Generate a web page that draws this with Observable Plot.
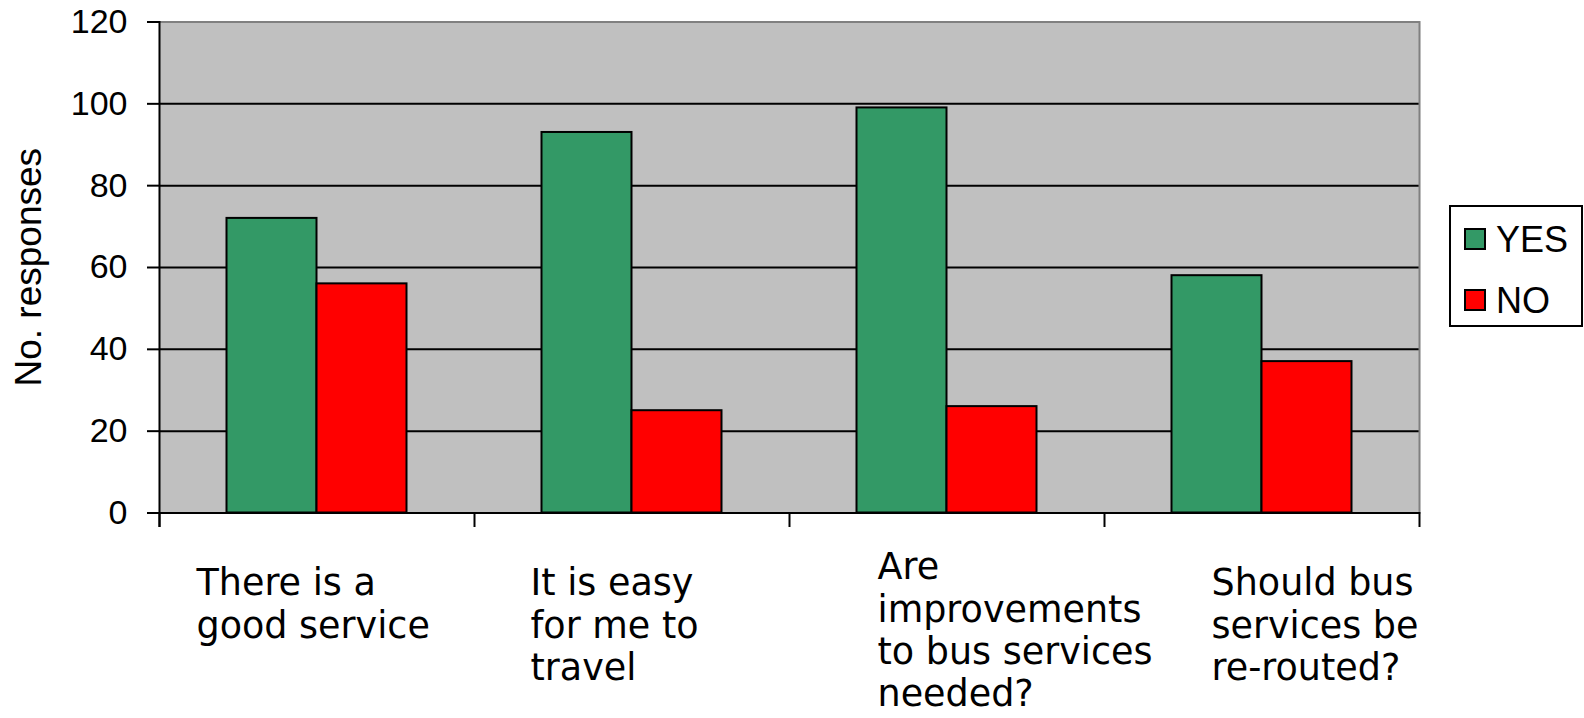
<!DOCTYPE html>
<html>
<head>
<meta charset="utf-8">
<script src="https://cdn.jsdelivr.net/npm/d3@7"></script>
<script src="https://cdn.jsdelivr.net/npm/@observablehq/plot@0.6"></script>
<style>
  html, body { margin: 0; padding: 0; background: white; }
  #wrap { position: relative; width: 1584px; height: 718px; }
  #legend { position: absolute; left: 1449px; top: 205px; width: 134px; height: 122px;
    box-sizing: border-box; border: 2px solid black; background: white;
    font-family: "Liberation Sans", Arial, sans-serif; font-size: 36px; line-height: 36px; color: black; }
  #legend .sw { position: absolute; width: 22px; height: 22px; box-sizing: border-box; border: 2px solid black; }
  #legend .lb { position: absolute; white-space: nowrap; }
</style>
</head>
<body>
<div id="wrap"></div>
<script>
// ---- data ----
const categories = [
  "There is a good service",
  "It is easy for me to travel",
  "Are improvements to bus services needed?",
  "Should bus services be re-routed?"
];
const tickLabels = [
  "There is a\ngood service",
  "It is easy\nfor me to\ntravel",
  "Are\nimprovements\nto bus services\nneeded?",
  "Should bus\nservices be\nre-routed?"
];
const series = ["YES", "NO"];
const seriesColors = ["#339966", "#ff0000"];
const yesValues = [72, 93, 99, 58];
const noValues = [56, 25, 26, 37];
const yTicks = [0, 20, 40, 60, 80, 100, 120];
const yLabel = "No. responses";

// ---- build table ----
const rows = [];
categories.forEach((c, i) => {
  rows.push({cat: c, series: "YES", value: yesValues[i]});
  rows.push({cat: c, series: "NO", value: noValues[i]});
});

// label layout offsets (styling)
const labelDx = [37, 56, 88, 107];
const labelDy = [52, 52, 36, 52];

const W = 1584, H = 718, mT = 21.5, mB = 205.5, mL = 159, mR = 165;
const innerH = H - mT - mB;

const labelMarks = categories.map((c, i) =>
  Plot.text([{cat: c, label: tickLabels[i]}], {
    fx: "cat", text: "label", frameAnchor: "bottom-left",
    textAnchor: "start", lineAnchor: "top", dx: labelDx[i], dy: labelDy[i],
    fontSize: 36.5, fontFamily: "DejaVu Sans", lineHeight: 1.162, fill: "black"
  })
);

const chart = Plot.plot({
  width: W, height: H,
  marginTop: mT, marginBottom: mB, marginLeft: mL, marginRight: mR,
  style: {background: "white", color: "black", overflow: "visible"},
  fx: {domain: categories, paddingInner: 0, paddingOuter: 0, round: false, axis: null, label: null},
  x: {domain: series, paddingInner: 0, paddingOuter: 0.75, round: false, axis: null},
  y: {domain: [0, 120], axis: null},
  color: {domain: series, range: seriesColors},
  marks: [
    Plot.frame({fill: "#c0c0c0", stroke: "none", insetLeft: -0.6, insetRight: -0.6}),
    Plot.ruleY(yTicks.filter(t => t > 0 && t < 120), {stroke: "black", strokeWidth: 2}),
    Plot.ruleY([120], {stroke: "#808080", strokeWidth: 2}),
    Plot.frame({anchor: "right", facetAnchor: "right", stroke: "#808080", strokeWidth: 2}),
    Plot.barY(rows, {fx: "cat", x: "series", y: "value", fill: "series", stroke: "black", strokeWidth: 2}),
    Plot.ruleY([0], {stroke: "black", strokeWidth: 2}),
    Plot.frame({anchor: "left", facetAnchor: "left", stroke: "black", strokeWidth: 2, insetBottom: -13}),
    Plot.frame({anchor: "left", stroke: "black", strokeWidth: 2, insetTop: innerH, insetBottom: -13}),
    Plot.frame({anchor: "right", facetAnchor: "right", stroke: "black", strokeWidth: 2, insetTop: innerH, insetBottom: -13}),
    Plot.axisY({ticks: yTicks, tickSize: 12, tickPadding: 20, fontSize: 34,
      fontFamily: "Liberation Sans, Arial, sans-serif", strokeWidth: 2, label: null, tickFormat: d => String(d)}),
    Plot.text([yLabel], {frameAnchor: "left", facetAnchor: "left", rotate: -90, dx: -130, dy: 119,
      lineAnchor: "middle", fontSize: 37, fontFamily: "Liberation Sans, Arial, sans-serif", fill: "black"}),
    ...labelMarks
  ]
});

const wrap = document.getElementById("wrap");
wrap.appendChild(chart);

// legend
const legend = document.createElement("div");
legend.id = "legend";
const swTops = [21, 82];
series.forEach((s, i) => {
  const sw = document.createElement("div");
  sw.className = "sw";
  sw.style.left = "13px";
  sw.style.top = swTops[i] + "px";
  sw.style.background = seriesColors[i];
  legend.appendChild(sw);
  const lb = document.createElement("div");
  lb.className = "lb";
  lb.style.left = "45px";
  lb.style.top = (swTops[i] - 6) + "px";
  lb.textContent = s;
  legend.appendChild(lb);
});
wrap.appendChild(legend);
</script>
</body>
</html>
